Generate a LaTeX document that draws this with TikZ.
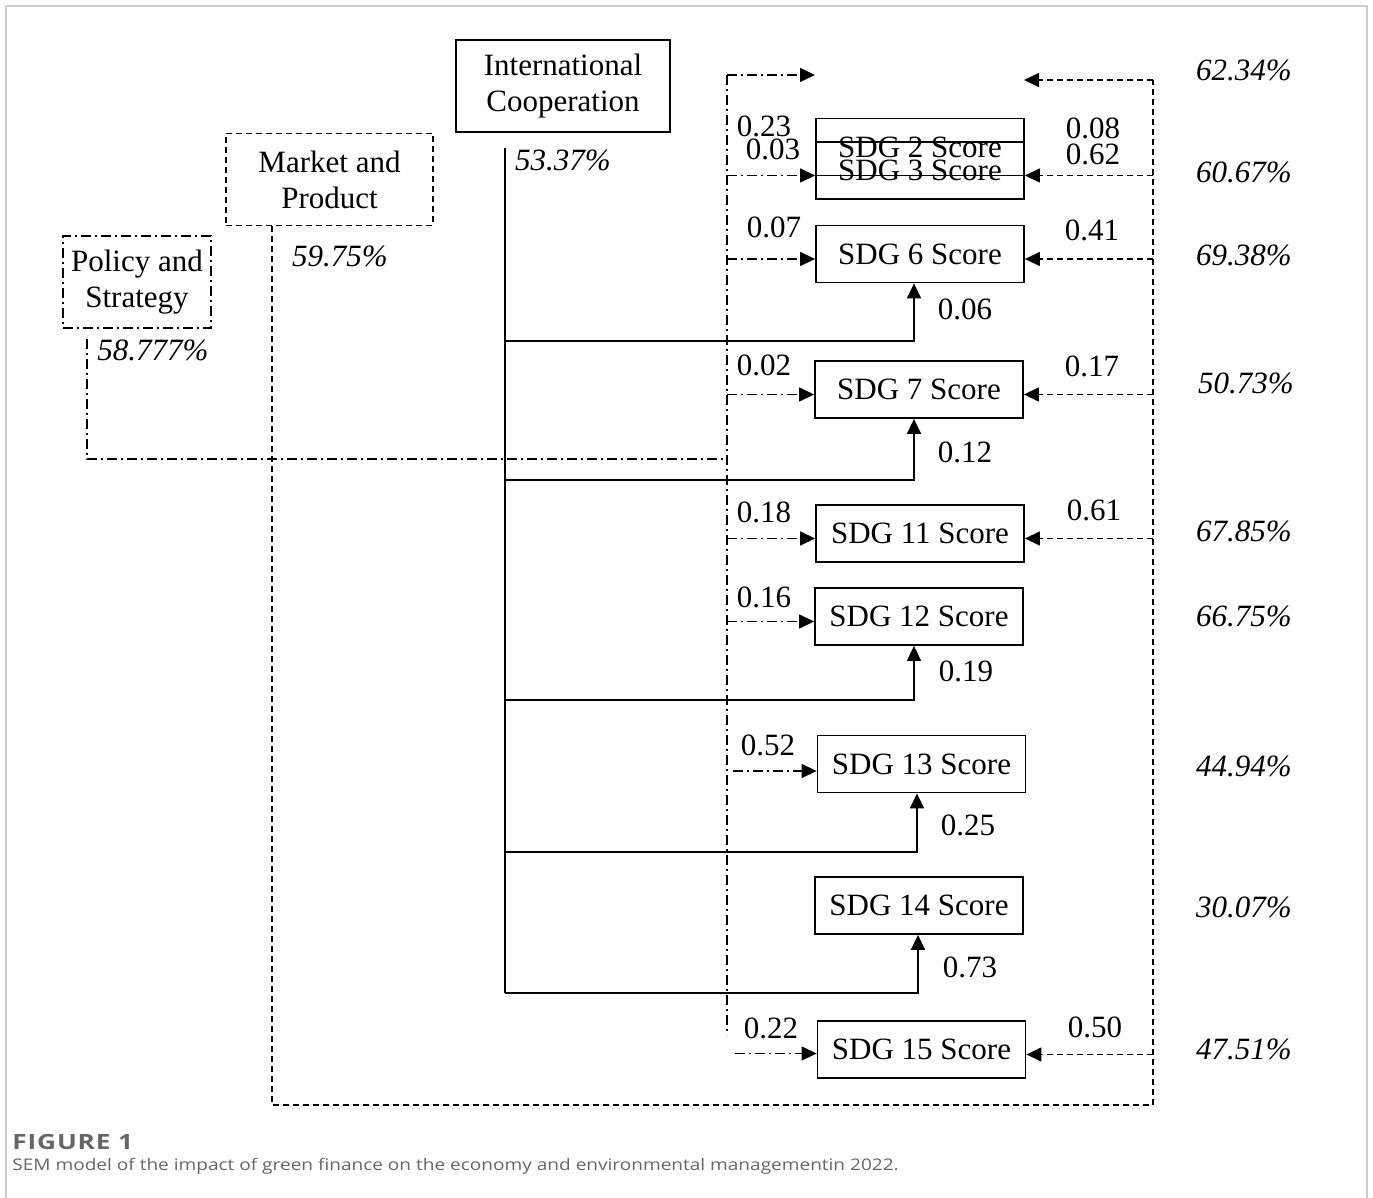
\documentclass[tikz,border=0pt]{standalone}
\usepackage{fontspec}
\setmainfont{Liberation Serif}
\newfontfamily\capfont[FakeStretch=1.19]{Open Sans}
\newfontfamily\figfont[FakeStretch=1.25,LetterSpace=4]{Open Sans}
\usetikzlibrary{arrows.meta}
\tikzset{>={Triangle[width=7pt,length=7.5pt]}}
\definecolor{framegray}{gray}{0.8}
\definecolor{capgray}{gray}{0.4}
\tikzset{
  latent/.style={line width=0.9pt, minimum height=46pt, inner sep=0pt, align=center},
  score/.style={draw, line width=0.9pt, minimum width=104pt, minimum height=28.5pt, inner sep=0pt},
  coef/.style={inner sep=0pt},
  pct/.style={inner sep=0pt, font=\itshape},
  dashln/.style={line width=0.65pt, dash pattern=on 3pt off 2pt},
  dotln/.style={line width=0.65pt, dash pattern=on 5pt off 2pt on 1pt off 2pt},
  solidln/.style={line width=0.8pt},
}

\begin{document}
\begin{tikzpicture}[x=0.5pt, y=-0.5pt]

  \fontsize{15.5}{18}\selectfont
  \useasboundingbox (0,0) rectangle (1373,1198);

  \draw[framegray, line width=1pt] (6,1198) -- (6,6) -- (1367,6) -- (1367,1198);

  %% latent factors
  \node[latent, draw, minimum width=107pt] (ic) at (563,86) {International\\Cooperation};
  \node[latent, draw, dashln, line width=0.9pt, minimum width=103.5pt] (mp) at (329.5,179.5) {Market and\\Product};
  \node[latent, draw, dotln, line width=0.9pt, minimum width=74pt] (ps) at (137,282) {Policy and\\Strategy};

  \node[pct] (icr) at (563,160) {53.37\%};
  \node[pct] (mpr) at (340,256) {59.75\%};
  \node[pct] (psr) at (153,350) {58.777\%};

  %% observed scores
  \node[score] (s2) at (920,147) {SDG 2 Score};
  \node[score] (s3) at (920,170.5) {SDG 3 Score};
  \node[score] (s6) at (920,254) {SDG 6 Score};
  \node[score] (s7) at (919,389.5) {SDG 7 Score};
  \node[score] (s11) at (920,533.5) {SDG 11 Score};
  \node[score] (s12) at (919,616.5) {SDG 12 Score};
  \node[score] (s13) at (921.5,764) {SDG 13 Score};
  \node[score] (s14) at (919,905.5) {SDG 14 Score};
  \node[score] (s15) at (921.5,1049.5) {SDG 15 Score};

  %% bus corners
  \coordinate (icbus) at (505,148);
  \coordinate (icend) at (505,993);
  \coordinate (mpbus) at (272,1105);
  \coordinate (mpcol) at (1153,80);
  \coordinate (psbus) at (87,459);
  \coordinate (pscol) at (727,75);
  \coordinate (pscolend) at (727,1035);
  \coordinate (toptipl) at (815,75);
  \coordinate (toptipr) at (1024,80);

  %% International Cooperation -> scores
  \draw[solidln] (icbus) -- (icend);
  \foreach \b/\x/\y in {s6/914/341, s7/914/480, s12/914/700, s13/917/852, s14/918/993}{
    \coordinate (k\b) at (\x,\y);
    \draw[solidln, ->] (icbus |- k\b) -- (k\b) -- (k\b |- \b.south);
  }

  %% Market and Product -> scores
  \draw[dashln] (mp.south -| mpbus) -- (mpbus) -- (mpbus -| mpcol) -- (mpcol);
  \draw[dashln, ->] (mpcol) -- (toptipr);
  \foreach \b in {s3, s6, s7, s11, s15}
    \draw[dashln, ->] ([yshift=-2.5pt]mpcol |- \b.east) -- ([yshift=-2.5pt]\b.east);

  %% Policy and Strategy -> scores
  \draw[dotln] ([yshift=-5pt]ps.south -| psbus) -- (psbus) -- (psbus -| pscol);
  \draw[dotln] (pscol) -- (pscolend);
  \draw[dotln, ->] (pscol) -- (toptipl);
  \foreach \b in {s3, s6, s7, s11, s12}
    \draw[dotln, ->] ([yshift=-2.5pt]pscol |- \b.west) -- ([yshift=-2.5pt]\b.west);
  \draw[dotln, ->] ([yshift=-3.5pt, xshift=3pt]pscol |- s13.west) -- ([yshift=-3.5pt]s13.west);
  \draw[dotln, ->] ([yshift=-2pt, xshift=4pt]pscol |- s15.west) -- ([yshift=-2pt]s15.west);

  %% coefficients
  \node[coef] (c23) at (764,126) {0.23};
  \node[coef] (c03) at (773,149) {0.03};
  \node[coef] (c07) at (774,227) {0.07};
  \node[coef] (c02) at (764,365) {0.02};
  \node[coef] (c18) at (764,512) {0.18};
  \node[coef] (c16) at (764,597) {0.16};
  \node[coef] (c52) at (768,745) {0.52};
  \node[coef] (c22) at (771,1028) {0.22};
  \node[coef] (c08) at (1093,128) {0.08};
  \node[coef] (c62) at (1093,154) {0.62};
  \node[coef] (c41) at (1092,230) {0.41};
  \node[coef] (c17) at (1092,366) {0.17};
  \node[coef] (c61) at (1094,510) {0.61};
  \node[coef] (c50) at (1095,1027) {0.50};
  \node[coef] (c06) at (965,309) {0.06};
  \node[coef] (c12) at (965,452) {0.12};
  \node[coef] (c19) at (966,671) {0.19};
  \node[coef] (c25) at (968,825) {0.25};
  \node[coef] (c73) at (970,967) {0.73};

  %% explained variance
  \node[pct] (r1) at (1244,70) {62.34\%};
  \node[pct] (r3) at (1244,172) {60.67\%};
  \node[pct] (r6) at (1244,255) {69.38\%};
  \node[pct] (r7) at (1246,383) {50.73\%};
  \node[pct] (r11) at (1244,531) {67.85\%};
  \node[pct] (r12) at (1244,616) {66.75\%};
  \node[pct] (r13) at (1244,766) {44.94\%};
  \node[pct] (r14) at (1244,907) {30.07\%};
  \node[pct] (r15) at (1244,1049) {47.51\%};

  %% caption
  \node[anchor=west, inner sep=0pt, text=capgray, font=\figfont\fontsize{10.5}{12}\selectfont\bfseries] (fig) at (12,1142) {FIGURE 1};
  \node[anchor=west, inner sep=0pt, text=capgray, font=\capfont\fontsize{8}{10}\selectfont] (cap) at (12,1166) {SEM model of the impact of green finance on the economy and environmental managementin 2022.};

\end{tikzpicture}
\end{document}
